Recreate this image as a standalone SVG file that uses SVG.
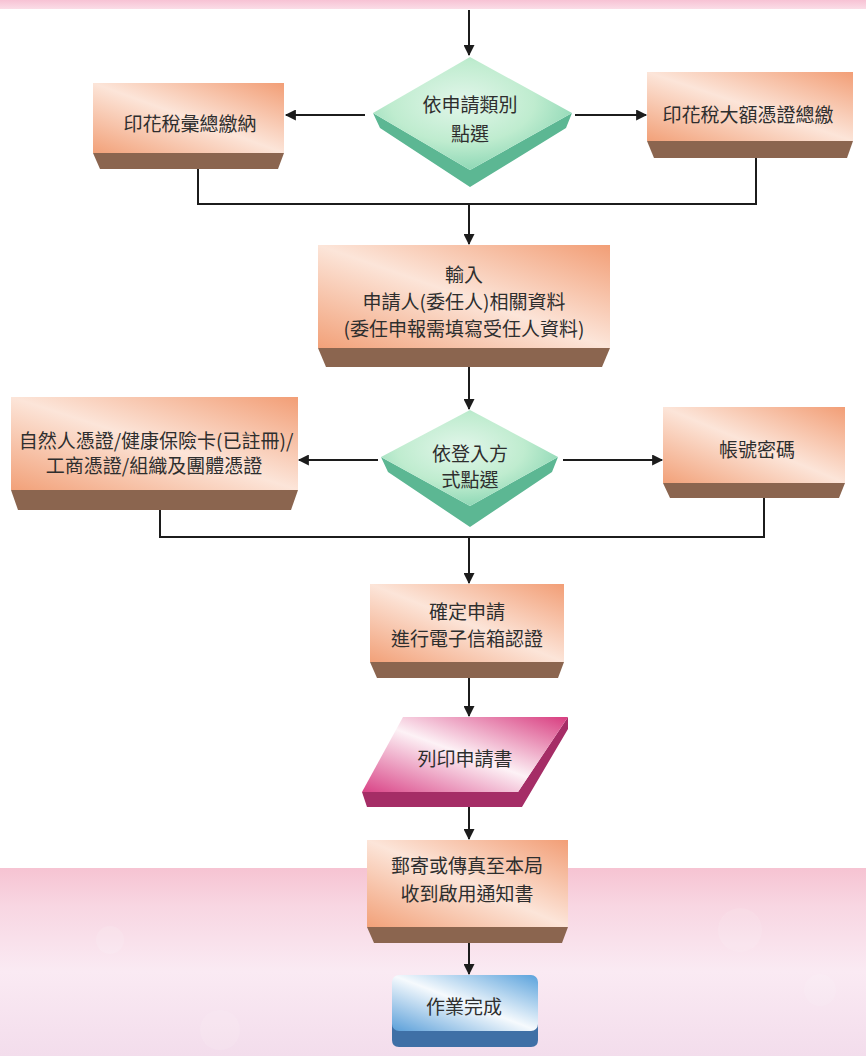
<svg xmlns="http://www.w3.org/2000/svg" width="866" height="1056" viewBox="0 0 866 1056">
<defs>
<style>
.t{font-family:"Noto Sans CJK TC","Noto Sans CJK SC","Liberation Sans",sans-serif;font-size:19px;fill:#2e2e2e;text-anchor:middle;dominant-baseline:central}
.ln{fill:none;stroke:#1c1c1c;stroke-width:2}
.face{fill:url(#gOrange)}
.ext{fill:#8b654f}
</style>
<linearGradient id="gOrange" x1="0" y1="1" x2="1" y2="0">
<stop offset="0" stop-color="#f2a179"/>
<stop offset="0.5" stop-color="#fce5d9"/>
<stop offset="1" stop-color="#f29e76"/>
</linearGradient>
<radialGradient id="gGreen" cx="0.45" cy="0.4" r="0.6">
<stop offset="0" stop-color="#e2f6ea"/>
<stop offset="0.6" stop-color="#bfeccf"/>
<stop offset="1" stop-color="#8fd8b6"/>
</radialGradient>
<linearGradient id="gPink" x1="0" y1="1" x2="1" y2="0">
<stop offset="0" stop-color="#d94386"/>
<stop offset="0.5" stop-color="#fdf2f6"/>
<stop offset="1" stop-color="#d83c7f"/>
</linearGradient>
<linearGradient id="gBlue" x1="0" y1="1" x2="1" y2="0">
<stop offset="0" stop-color="#5a9fd9"/>
<stop offset="0.5" stop-color="#f6fafd"/>
<stop offset="1" stop-color="#5aa2dc"/>
</linearGradient>
<linearGradient id="gBg" x1="0" y1="0" x2="0" y2="1">
<stop offset="0" stop-color="#f6c3d2"/>
<stop offset="0.2" stop-color="#f8d6e2"/>
<stop offset="0.55" stop-color="#faeaf3"/>
<stop offset="1" stop-color="#f3ddec"/>
</linearGradient>
<linearGradient id="gTop" x1="0" y1="0" x2="0" y2="1">
<stop offset="0" stop-color="#f7c2d4"/>
<stop offset="1" stop-color="#fbdde7"/>
</linearGradient>
<marker id="ah" viewBox="0 0 10 10" refX="9" refY="5" markerWidth="12" markerHeight="11" markerUnits="userSpaceOnUse" orient="auto">
<path d="M0,0 L10,5 L0,10 z" fill="#1c1c1c"/>
</marker>
</defs>

<g id="background">
<rect x="0" y="0" width="866" height="1056" fill="#ffffff"/>
<rect x="0" y="0" width="866" height="9" fill="url(#gTop)"/>
<rect x="0" y="868" width="866" height="188" fill="url(#gBg)"/>
<circle cx="110" cy="940" r="14" fill="#ffffff" opacity="0.12"/>
<circle cx="220" cy="1030" r="20" fill="#ffffff" opacity="0.1"/>
<circle cx="740" cy="930" r="22" fill="#ffffff" opacity="0.1"/>
<circle cx="820" cy="990" r="16" fill="#ffffff" opacity="0.1"/>
</g>

<g id="connectors">
<path class="ln" d="M469,10 V55" marker-end="url(#ah)"/>
<path class="ln" d="M365,115 H286" marker-end="url(#ah)"/>
<path class="ln" d="M575,115 H646" marker-end="url(#ah)"/>
<path class="ln" d="M198,169 V204 H756 V158"/>
<path class="ln" d="M469,204 V244" marker-end="url(#ah)"/>
<path class="ln" d="M469,367 V409" marker-end="url(#ah)"/>
<path class="ln" d="M378,460 H299" marker-end="url(#ah)"/>
<path class="ln" d="M563,460 H662" marker-end="url(#ah)"/>
<path class="ln" d="M160,510 V537 H764 V498"/>
<path class="ln" d="M469,537 V583" marker-end="url(#ah)"/>
<path class="ln" d="M469,678 V716" marker-end="url(#ah)"/>
<path class="ln" d="M469,807 V839" marker-end="url(#ah)"/>
<path class="ln" d="M469,943 V974" marker-end="url(#ah)"/>
</g>

<g id="node-choose-type">
<polygon points="373,113 470,170 572,113 566,128 470,187 380,128" fill="#5cb793"/>
<polygon points="470,57 572,113 470,170 373,113" fill="url(#gGreen)"/>
<text class="t" x="470" y="103">依申請類別</text>
<text class="t" x="470" y="132">點選</text>
</g>

<g id="node-summary">
<polygon class="ext" points="93,153 284,153 278,169 100,169"/>
<rect class="face" x="93" y="83" width="191" height="70"/>
<text class="t" x="190" y="122">印花稅彙總繳納</text>
</g>

<g id="node-large">
<polygon class="ext" points="647,141 853,141 847,158 654,158"/>
<rect class="face" x="647" y="72" width="206" height="69"/>
<text class="t" x="748" y="113">印花稅大額憑證總繳</text>
</g>

<g id="node-input">
<polygon class="ext" points="318,348 610,348 602,367 326,367"/>
<rect class="face" x="318" y="245" width="292" height="103"/>
<text class="t" x="464" y="273">輸入</text>
<text class="t" x="464" y="300">申請人(委任人)相關資料</text>
<text class="t" x="464" y="327">(委任申報需填寫受任人資料)</text>
</g>

<g id="node-choose-login">
<polygon points="381,457 470,506 558,457 552,472 470,527 388,472" fill="#5cb793"/>
<polygon points="470,410 558,457 470,506 381,457" fill="url(#gGreen)"/>
<text class="t" x="470" y="452">依登入方</text>
<text class="t" x="470" y="478">式點選</text>
</g>

<g id="node-cert">
<polygon class="ext" points="11,490 298,490 291,510 18,510"/>
<rect class="face" x="11" y="397" width="287" height="93"/>
<text class="t" x="156" y="439">自然人憑證/健康保險卡(已註冊)/</text>
<text class="t" x="154" y="464">工商憑證/組織及團體憑證</text>
</g>

<g id="node-password">
<polygon class="ext" points="663,483 845,483 839,498 670,498"/>
<rect class="face" x="663" y="407" width="182" height="76"/>
<text class="t" x="757" y="448">帳號密碼</text>
</g>

<g id="node-confirm">
<polygon class="ext" points="370,662 564,662 558,678 377,678"/>
<rect class="face" x="370" y="584" width="194" height="78"/>
<text class="t" x="467" y="610">確定申請</text>
<text class="t" x="467" y="637">進行電子信箱認證</text>
</g>

<g id="node-print">
<polygon points="362,792 518,792 568,717 568,729 522,807 367,807" fill="#a52d66"/>
<polygon points="403,717 568,717 518,792 362,792" fill="url(#gPink)"/>
<text class="t" x="465" y="757">列印申請書</text>
</g>

<g id="node-mail">
<polygon class="ext" points="367,927 568,927 562,943 374,943"/>
<rect class="face" x="367" y="840" width="201" height="87"/>
<text class="t" x="467" y="864">郵寄或傳真至本局</text>
<text class="t" x="467" y="892">收到啟用通知書</text>
</g>

<g id="node-done">
<path d="M392,1024 H538 V1040 Q538,1047 531,1047 H399 Q392,1047 392,1040 Z" fill="#3f70a6"/>
<rect x="392" y="975" width="146" height="56" rx="7" ry="7" fill="url(#gBlue)"/>
<text class="t" x="464" y="1005">作業完成</text>
</g>
</svg>
